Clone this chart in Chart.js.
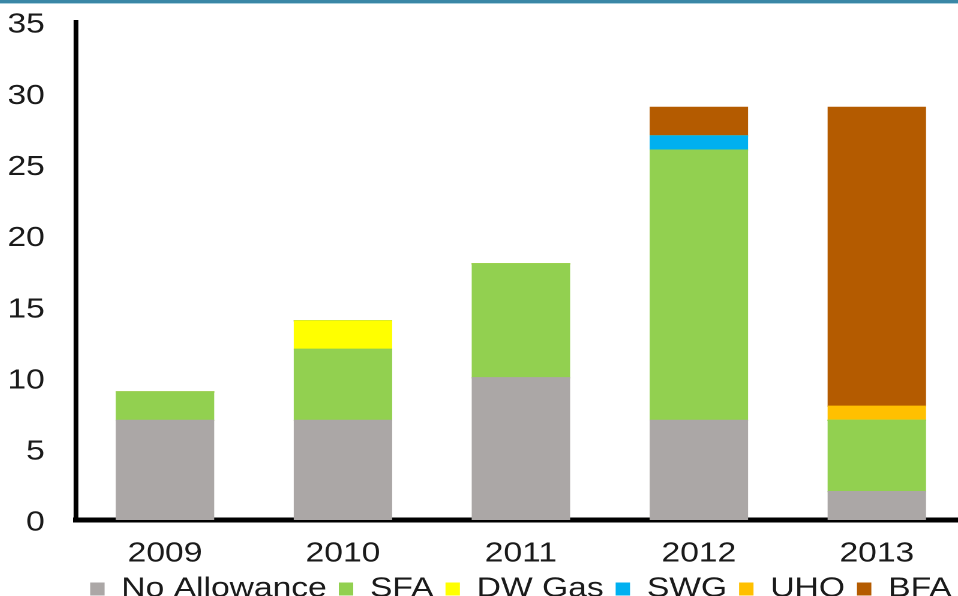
<!DOCTYPE html>
<html>
<head>
<meta charset="utf-8">
<script src="https://cdn.jsdelivr.net/npm/chart.js@4.4.1/dist/chart.umd.min.js"></script>
<style>
  html, body { margin: 0; padding: 0; width: 958px; height: 596px; overflow: hidden; background: #fff; }
  #topline { position: absolute; left: 0; top: 0; width: 958px; height: 3px; background: #3a87a6; border-bottom: 1px solid #a9cfdd; z-index: 2; }
  /* chart is laid out narrower then stretched sideways */
  #wrap { position: absolute; left: 1px; top: 0; width: 804px; height: 613px; transform: scaleX(1.2); transform-origin: 0 0; }
</style>
</head>
<body>
<div id="topline"></div>
<div id="wrap"><canvas id="myChart" width="804" height="613"></canvas></div>
<script>
//data
const years = ['2009', '2010', '2011', '2012', '2013'];
const noAllowance = [7, 7, 10, 7, 2];
const sfa = [2, 5, 8, 19, 5];
const dwGas = [0, 2, 0, 0, 0];
const swg = [0, 0, 0, 1, 0];
const uho = [0, 0, 0, 0, 1];
const bfa = [0, 0, 0, 2, 21];
const yTicks = [0, 5, 10, 15, 20, 25, 30, 35];

const ctx = document.getElementById('myChart');
const textFont = { family: 'Liberation Sans, Arial, sans-serif', size: 28 };

function series(label, data, color) {
    return {
        label: label,
        data: data,
        backgroundColor: color,
        borderWidth: 0,
        inflateAmount: 0.6,
        barPercentage: 0.545,
        categoryPercentage: 1
    };
}

new Chart(ctx, {
    type: 'bar',
    data: {
        labels: years,
        datasets: [
            series('No Allowance', noAllowance, '#aba7a6'),
            series('SFA', sfa, '#92d050'),
            series('DW Gas', dwGas, '#ffff00'),
            series('SWG', swg, '#00b0f0'),
            series('UHO', uho, '#ffc000'),
            series('BFA', bfa, '#b45b00')
        ]
    },
    options: {
        responsive: false,
        animation: false,
        devicePixelRatio: 2,
        layout: { padding: { top: 22, left: 0, right: 0, bottom: 0 } },
        plugins: {
            tooltip: { enabled: false },
            legend: {
                position: 'bottom',
                fullSize: false,
                labels: {
                    font: textFont,
                    color: '#1a1a1a',
                    boxWidth: 12,
                    boxHeight: 13,
                    padding: 10
                }
            }
        },
        scales: {
            x: {
                stacked: true,
                grid: { display: false, drawTicks: false },
                border: { display: true, color: '#000', width: 5 },
                ticks: { font: textFont, color: '#1a1a1a', padding: 17 },
                afterFit: (scale) => { scale.height = 45; }
            },
            y: {
                stacked: true,
                min: 0,
                max: 35,
                grid: { display: false, drawTicks: false },
                border: { display: true, color: '#000', width: 4 },
                ticks: {
                    font: textFont,
                    color: '#1a1a1a',
                    padding: 26,
                    labelOffset: 3,
                    stepSize: 5,
                    callback: (v) => yTicks.includes(v) ? v : ''
                },
                afterFit: (scale) => {
                    scale.width = 62.5;
                    scale.paddingTop = 0;
                }
            }
        }
    }
});
</script>
</body>
</html>
